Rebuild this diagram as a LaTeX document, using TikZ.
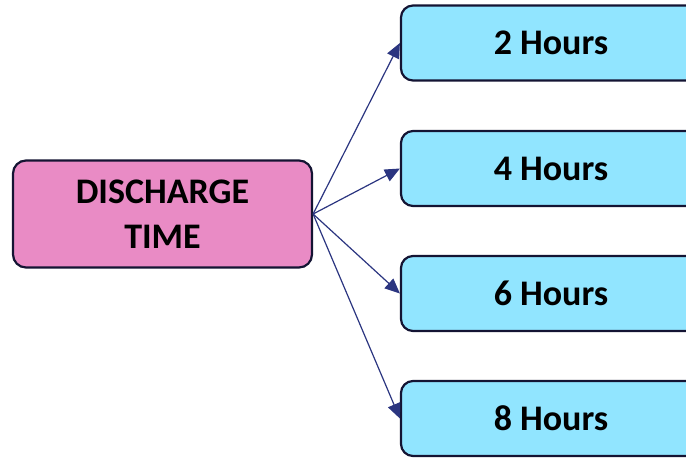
\documentclass[tikz,border=0pt]{standalone}
\usepackage{fontspec}
\setmainfont{Carlito}
\usetikzlibrary{arrows.meta}
\definecolor{pinkfill}{HTML}{E98BC5}
\definecolor{cyanfill}{HTML}{91E5FF}
\definecolor{edgec}{HTML}{141433}
\definecolor{arrowc}{HTML}{2B3580}
\begin{document}
\begin{tikzpicture}[x=1pt,y=-1pt,
 src/.style={draw=edgec,line width=2.2pt,fill=pinkfill,rounded corners=13pt,minimum width=299pt,minimum height=107pt,font=\bfseries\fontsize{36}{45}\selectfont,align=center,inner sep=0pt},
 dst/.style={draw=edgec,line width=2.2pt,fill=cyanfill,rounded corners=12pt,minimum width=300pt,minimum height=75pt,font=\bfseries\fontsize{36}{43}\selectfont,inner sep=0pt},
 link/.style={draw=arrowc,line width=1.2pt,-{Triangle[length=15pt,width=13pt]}}]
\clip (0,0) rectangle (686,458);
\node[src] (dt) at (162.5,214) {DISCHARGE\\TIME};
\node[dst] (h2) at (551,43) {2 Hours};
\node[dst] (h4) at (551,168.5) {4 Hours};
\node[dst] (h6) at (551,293.5) {6 Hours};
\node[dst] (h8) at (551,418.5) {8 Hours};
\foreach \t in {h2,h4,h6,h8} \draw[link] (dt.east) -- (\t.west);
\end{tikzpicture}
\end{document}
